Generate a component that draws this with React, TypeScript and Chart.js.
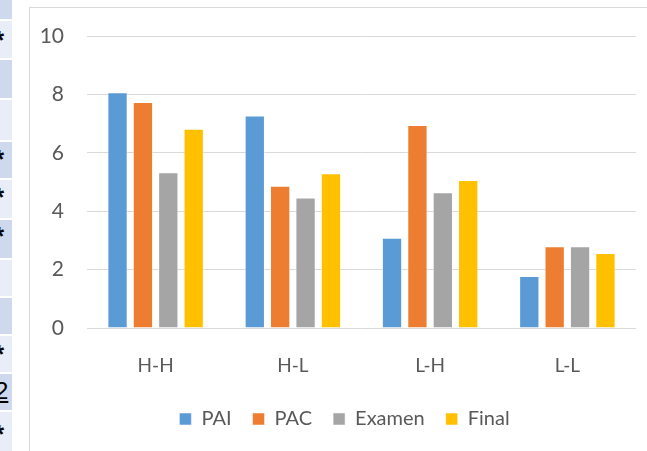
import React, { useEffect, useRef } from "react";
import { Chart, registerables } from "chart.js";

Chart.register(...registerables);

const categories = ["H-H", "H-L", "L-H", "L-L"];
const pai = [8.07, 7.28, 3.09, 1.78];
const pac = [7.74, 4.87, 6.95, 2.8];
const examen = [5.33, 4.47, 4.65, 2.8];
const final = [6.82, 5.3, 5.07, 2.57];
const seriesNames = ["PAI", "PAC", "Examen", "Final"];
const seriesColors = ["#5b9bd5", "#ed7d31", "#a5a5a5", "#ffc000"];
const yTicks = [0, 2, 4, 6, 8, 10];

const stripCells: [number, number][] = [
  [0, 19], [21, 58], [60, 98], [100, 140], [142, 178], [180, 218],
  [220, 258], [260, 296], [298, 334], [336, 372], [374, 410], [412, 451],
];
const stripMarks: [number, string][] = [
  [36, "*"], [155, "*"], [193, "*"], [232, "*"], [350, "*"], [393, "2"], [430, "*"],
];

const legendShift = {
  id: "legendShift",
  afterLayout(chart: any) {
    const lg = chart.legend;
    if (lg) {
      lg.left += 11.5;
      lg.right += 11.5;
    }
  },
};

export default function App() {
  const ref = useRef<HTMLCanvasElement | null>(null);

  useEffect(() => {
    if (!ref.current) return;
    const font = "Lato, 'Open Sans', sans-serif";
    const data = [pai, pac, examen, final];
    const chart = new Chart(ref.current, {
      type: "bar",
      data: {
        labels: categories,
        datasets: seriesNames.map((name, i) => ({
          label: name,
          data: data[i],
          backgroundColor: seriesColors[i],
          borderColor: "rgba(255,255,255,0.5)",
          borderWidth: 1,
          categoryPercentage: 0.74,
          barPercentage: 0.8,
        })),
      },
      plugins: [legendShift],
      options: {
        animation: false,
        responsive: false,
        devicePixelRatio: 1,
        layout: { padding: { top: 28, right: 11, bottom: 12, left: 0 } },
        plugins: {
          tooltip: { enabled: false },
          legend: {
            position: "bottom",
            labels: {
              boxWidth: 12,
              boxHeight: 12,
              color: "#595959",
              padding: 21,
              font: { family: font, size: 20 },
            },
          },
        },
        scales: {
          x: {
            grid: { display: false, drawTicks: false },
            border: { display: false },
            ticks: {
              color: "#595959",
              padding: 26,
              font: { family: font, size: 19 },
            },
            afterFit: (s: any) => {
              s.height = 60;
            },
          },
          y: {
            min: 0,
            max: 10,
            afterBuildTicks: (s: any) => {
              s.ticks = yTicks.map((v) => ({ value: v }));
            },
            grid: {
              color: "#d9d9d9",
              lineWidth: 1,
              drawTicks: true,
              tickLength: 23,
              tickColor: "rgba(0,0,0,0)",
            },
            border: { display: false },
            ticks: {
              color: "#595959",
              padding: 0,
              font: { family: font, size: 21 },
            },
            afterFit: (s: any) => {
              s.width = 57;
            },
          },
        },
      },
    });
    return () => chart.destroy();
  }, []);

  return (
    <div
      style={{
        position: "fixed",
        left: 0,
        top: 0,
        width: 647,
        height: 451,
        background: "#fff",
        overflow: "hidden",
      }}
    >
      {stripCells.map(([a, b], i) => (
        <div
          key={"c" + i}
          style={{
            position: "absolute",
            left: 0,
            top: a,
            width: 12,
            height: b - a,
            background: i % 2 === 0 ? "#cfd9ee" : "#e8edf7",
          }}
        />
      ))}
      {stripMarks.map(([y, t], i) => (
        <div
          key={"m" + i}
          style={{
            position: "absolute",
            left: t === "2" ? -5 : -6,
            top: y - (t === "2" ? 14 : 9),
            fontFamily: "'Liberation Sans', sans-serif",
            fontSize: t === "2" ? 24 : 26,
            fontWeight: t === "2" ? "normal" : "bold",
            lineHeight: 1,
            color: "#000",
            textDecoration: t === "2" ? "underline" : "none",
          }}
        >
          {t}
        </div>
      ))}
      <div
        style={{
          position: "absolute",
          left: 29,
          top: 7,
          width: 618,
          height: 444,
          borderLeft: "1px solid #d9d9d9",
          borderTop: "1px solid #d9d9d9",
          boxSizing: "border-box",
        }}
      >
        <canvas ref={ref} width={617} height={443} style={{ display: "block" }} />
      </div>
    </div>
  );
}
